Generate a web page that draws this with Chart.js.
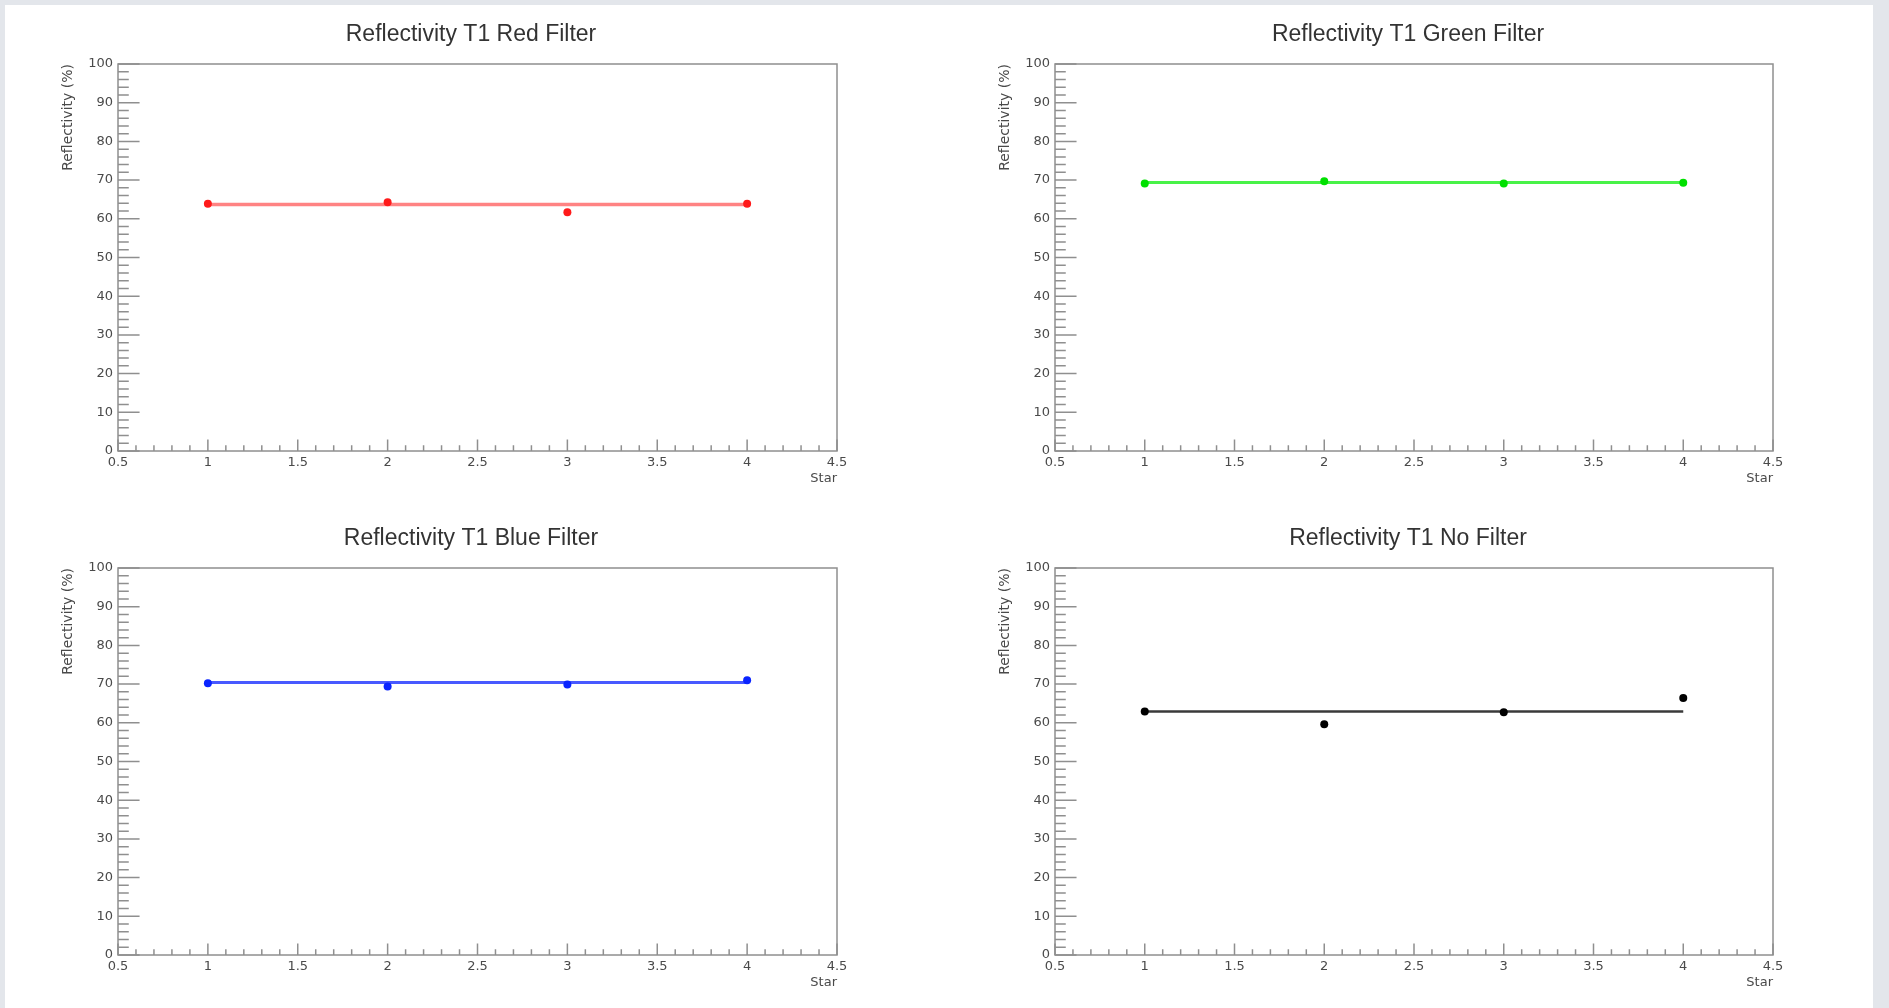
<!DOCTYPE html>
<html>
<head>
<meta charset="utf-8">
<title>Reflectivity T1</title>
<script src="https://cdn.jsdelivr.net/npm/chart.js@4.4.1/dist/chart.umd.min.js"></script>
<style>
  html, body { margin: 0; padding: 0; }
  body { width: 1889px; height: 1008px; background: #e3e6eb; position: relative; overflow: hidden; }
  #panel { position: absolute; left: 5px; top: 5px; width: 1868px; height: 1003px; background: #ffffff; }
  .pad { position: absolute; }
  .pad canvas { display: block; }
</style>
</head>
<body>
<div id="panel"></div>
<div class="pad" style="left:0px;top:0px;width:942px;height:504px;"><canvas id="redChart"></canvas></div>
<div class="pad" style="left:944px;top:0px;width:928px;height:504px;"><canvas id="greenChart"></canvas></div>
<div class="pad" style="left:0px;top:504px;width:942px;height:504px;"><canvas id="blueChart"></canvas></div>
<div class="pad" style="left:944px;top:504px;width:928px;height:504px;"><canvas id="noFilterChart"></canvas></div>

<script>
// Reflectivity of the T1 stars, one pad per filter (ROOT style plots)
const stars = [1, 2, 3, 4];

const redValues = [63.9, 64.3, 61.7, 63.9];
const greenValues = [69.1, 69.7, 69.1, 69.3];
const blueValues = [70.2, 69.4, 69.9, 71.0];
const noFilterValues = [62.9, 59.6, 62.7, 66.4];

// constant fit level drawn across the stars
const redFit = 63.7;
const greenFit = 69.4;
const blueFit = 70.4;
const noFilterFit = 62.9;

const xTicks = [0.5, 1, 1.5, 2, 2.5, 3, 3.5, 4, 4.5];
const yTicks = [0, 10, 20, 30, 40, 50, 60, 70, 80, 90, 100];
const xMinorDiv = 5;
const yMinorDiv = 5;

const titles = ['Reflectivity T1 Red Filter', 'Reflectivity T1 Green Filter',
                'Reflectivity T1 Blue Filter', 'Reflectivity T1 No Filter'];
const xTitle = 'Star';
const yTitle = 'Reflectivity (%)';

const AXIS_COLOR = '#8f8f8f';
const TEXT_COLOR = '#4a4a4a';

// frame + inward ticks like a TFrame
const rootFrame = {
  id: 'rootFrame',
  beforeDatasetsDraw(chart) {
    const { ctx, chartArea: a, scales } = chart;
    const x = scales.x, y = scales.y;
    const yLen = 0.03 * (a.right - a.left);
    const xLen = 0.03 * (a.bottom - a.top);
    ctx.save();
    ctx.strokeStyle = AXIS_COLOR;
    ctx.lineWidth = 1.5;
    ctx.strokeRect(a.left, a.top, a.right - a.left, a.bottom - a.top);
    ctx.beginPath();
    for (let i = 0; i < yTicks.length; i++) {
      const py = y.getPixelForValue(yTicks[i]);
      ctx.moveTo(a.left, py);
      ctx.lineTo(a.left + yLen, py);
      if (i < yTicks.length - 1) {
        const step = (yTicks[i + 1] - yTicks[i]) / yMinorDiv;
        for (let k = 1; k < yMinorDiv; k++) {
          const p = y.getPixelForValue(yTicks[i] + k * step);
          ctx.moveTo(a.left, p);
          ctx.lineTo(a.left + yLen / 2, p);
        }
      }
    }
    for (let i = 0; i < xTicks.length; i++) {
      const px = x.getPixelForValue(xTicks[i]);
      ctx.moveTo(px, a.bottom);
      ctx.lineTo(px, a.bottom - xLen);
      if (i < xTicks.length - 1) {
        const step = (xTicks[i + 1] - xTicks[i]) / xMinorDiv;
        for (let k = 1; k < xMinorDiv; k++) {
          const p = x.getPixelForValue(xTicks[i] + k * step);
          ctx.moveTo(p, a.bottom);
          ctx.lineTo(p, a.bottom - xLen / 2);
        }
      }
    }
    ctx.stroke();
    ctx.restore();
  }
};

function makePad(canvasId, title, values, fit, pointColor, lineColor, lineWidth, leftWidth, rightWidth) {
  const points = stars.map((s, i) => ({ x: s, y: values[i] }));
  const fitLine = [{ x: stars[0], y: fit }, { x: stars[stars.length - 1], y: fit }];

  return new Chart(document.getElementById(canvasId), {
    type: 'scatter',
    data: {
      datasets: [
        {
          label: 'data',
          data: points,
          showLine: false,
          pointRadius: 4,
          pointBorderWidth: 0,
          pointBackgroundColor: pointColor,
          borderColor: pointColor
        },
        {
          label: 'fit',
          data: fitLine,
          showLine: true,
          pointRadius: 0,
          borderColor: lineColor,
          borderWidth: lineWidth,
          fill: false
        }
      ]
    },
    options: {
      responsive: true,
      maintainAspectRatio: false,
      animation: false,
      layout: { padding: 0 },
      plugins: {
        legend: { display: false },
        tooltip: { enabled: false },
        title: {
          display: true,
          text: title,
          color: '#333333',
          font: { family: 'Liberation Sans', size: 23, weight: 'normal', lineHeight: 1.2 },
          padding: { top: 20.5, bottom: 15.9 }
        }
      },
      scales: {
        x: {
          type: 'linear',
          min: 0.5,
          max: 4.5,
          afterBuildTicks: s => { s.ticks = xTicks.map(v => ({ value: v })); },
          afterFit: s => { s.height = 53; },
          grid: { display: false, drawTicks: false },
          border: { display: false },
          ticks: {
            color: TEXT_COLOR,
            padding: 3.5,
            maxRotation: 0,
            autoSkip: false,
            font: { family: 'DejaVu Sans', size: 13 },
            callback: v => String(v)
          },
          title: {
            display: true,
            text: xTitle,
            align: 'end',
            color: TEXT_COLOR,
            font: { family: 'DejaVu Sans', size: 13, lineHeight: 1.2 },
            padding: { top: 0, bottom: 18 }
          }
        },
        y: {
          type: 'linear',
          position: 'left',
          min: 0,
          max: 100,
          afterBuildTicks: s => { s.ticks = yTicks.map(v => ({ value: v })); },
          afterFit: s => { s.width = leftWidth; },
          grid: { display: false, drawTicks: false },
          border: { display: false },
          ticks: {
            color: TEXT_COLOR,
            padding: 5,
            font: { family: 'DejaVu Sans', size: 13 },
            callback: v => String(v)
          },
          title: {
            display: true,
            text: yTitle,
            align: 'end',
            color: TEXT_COLOR,
            font: { family: 'DejaVu Sans', size: 14, lineHeight: 1.2 },
            padding: { top: leftWidth - 50 - 8.4, bottom: 0 }
          }
        },
        yRight: {
          type: 'linear',
          position: 'right',
          min: 0,
          max: 100,
          afterFit: s => { s.width = rightWidth; },
          grid: { display: false, drawTicks: false },
          border: { display: false },
          ticks: { display: false }
        }
      }
    },
    plugins: [rootFrame]
  });
}

makePad('redChart', titles[0], redValues, redFit, '#ff1a1a', 'rgba(255,90,90,0.75)', 3.5, 118, 105);
makePad('greenChart', titles[1], greenValues, greenFit, '#00e000', 'rgba(40,240,40,0.85)', 3, 111, 99);
makePad('blueChart', titles[2], blueValues, blueFit, '#0a24ff', 'rgba(40,60,255,0.85)', 3, 118, 105);
makePad('noFilterChart', titles[3], noFilterValues, noFilterFit, '#000000', '#3a3a3a', 2.5, 111, 99);
</script>
</body>
</html>
